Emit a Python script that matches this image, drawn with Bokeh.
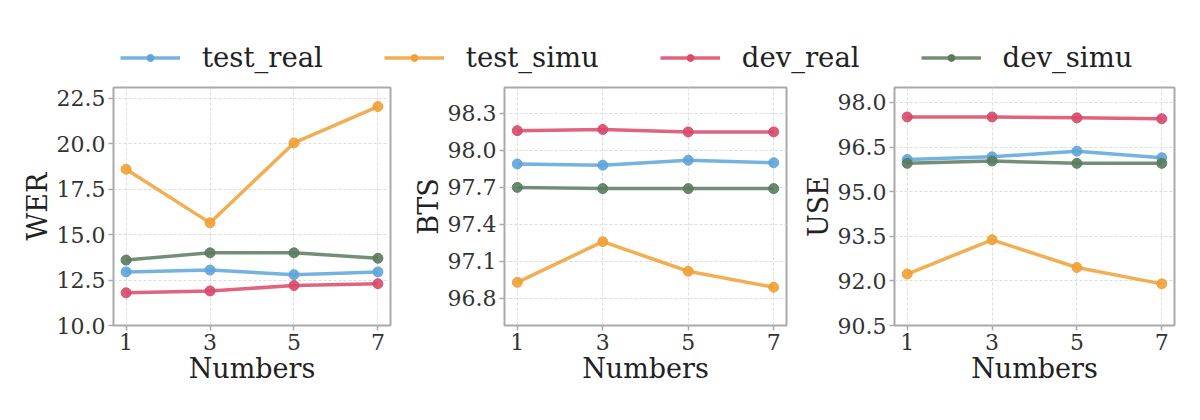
from bokeh.plotting import figure
from bokeh.layouts import column, row
from bokeh.models import (ColumnDataSource, FixedTicker, Legend, LegendItem,
                          NumeralTickFormatter, Range1d)
from bokeh.embed import file_html
from bokeh.resources import INLINE

# values
numbers = [1, 3, 5, 7]
series = ["test_real", "test_simu", "dev_real", "dev_simu"]
colors = ["#5DA5DA", "#F0A035", "#D8496A", "#5B7B5F"]

wer_test_real = [12.95, 13.05, 12.8, 12.95]
wer_test_simu = [18.6, 15.65, 20.05, 22.05]
wer_dev_real = [11.8, 11.9, 12.2, 12.3]
wer_dev_simu = [13.6, 14.0, 14.0, 13.7]

bts_test_real = [97.89, 97.88, 97.92, 97.90]
bts_test_simu = [96.93, 97.26, 97.02, 96.89]
bts_dev_real = [98.16, 98.17, 98.15, 98.15]
bts_dev_simu = [97.70, 97.69, 97.69, 97.69]

use_test_real = [96.08, 96.17, 96.36, 96.14]
use_test_simu = [92.23, 93.38, 92.45, 91.90]
use_dev_real = [97.51, 97.51, 97.48, 97.45]
use_dev_simu = [95.95, 96.03, 95.95, 95.95]

wer_ticks = [10.0, 12.5, 15.0, 17.5, 20.0, 22.5]
bts_ticks = [96.8, 97.1, 97.4, 97.7, 98.0, 98.3]
use_ticks = [90.5, 92.0, 93.5, 95.0, 96.5, 98.0]

FONT = "DejaVu Serif"


def panel(ylabel, data, yrange, yticks, width, left, right):
    p = figure(width=width, height=329, x_range=Range1d(0.7, 7.3),
               y_range=Range1d(*yrange), output_backend="svg",
               toolbar_location=None, min_border_left=left,
               min_border_right=right, min_border_top=4, min_border_bottom=87)
    p.background_fill_color = "white"
    p.outline_line_color = "#aaaaaa"
    p.outline_line_width = 2
    p.grid.grid_line_color = "#dddddd"
    p.grid.grid_line_dash = "3 2"
    p.grid.grid_line_width = 1
    p.xaxis.ticker = FixedTicker(ticks=numbers)
    p.yaxis.ticker = FixedTicker(ticks=yticks)
    p.yaxis.formatter = NumeralTickFormatter(format="0.0")
    p.xaxis.axis_label = "Numbers"
    p.yaxis.axis_label = ylabel
    for ax in p.axis:
        ax.axis_line_color = None
        ax.minor_tick_line_color = None
        ax.major_tick_out = 5
        ax.major_tick_in = 0
        ax.major_tick_line_color = "#aaaaaa"
        ax.major_tick_line_width = 1.5
        ax.major_label_text_font = FONT
        ax.major_label_text_font_size = "22px"
        ax.major_label_text_color = "#333333"
        ax.major_label_standoff = 3
        ax.axis_label_text_font = FONT
        ax.axis_label_text_font_size = "27px"
        ax.axis_label_text_font_style = "normal"
        ax.axis_label_text_color = "#222222"
    p.xaxis.axis_label_standoff = 0
    p.yaxis.axis_label_standoff = 1
    for vals, c in zip(data, colors):
        src = ColumnDataSource(dict(x=numbers, y=vals))
        p.line("x", "y", source=src, line_color=c, line_width=3.5, line_alpha=0.85)
        p.scatter("x", "y", source=src, size=10, fill_color=c, line_color=c,
                  fill_alpha=0.9, line_alpha=0.9)
    return p


p1 = panel("WER", [wer_test_real, wer_test_simu, wer_dev_real, wer_dev_simu],
           (10.0, 23.1), wer_ticks, 398, 113, 8)
p2 = panel("BTS", [bts_test_real, bts_test_simu, bts_dev_real, bts_dev_simu],
           (96.58, 98.51), bts_ticks, 392, 106, 4)
p3 = panel("USE", [use_test_real, use_test_simu, use_dev_real, use_dev_simu],
           (90.5, 98.5), use_ticks, 394, 104, 10)

# legend strip across the top; its lines sit outside the visible range
leg = figure(width=1192, height=83, x_range=Range1d(100, 101), y_range=Range1d(100, 101),
             output_backend="svg", toolbar_location=None, min_border=0)
leg.axis.visible = False
leg.grid.visible = False
leg.outline_line_color = None
items = []
wer_all = [wer_test_real, wer_test_simu, wer_dev_real, wer_dev_simu]
for name, c, vals in zip(series, colors, wer_all):
    src = ColumnDataSource(dict(x=numbers, y=vals))
    r1 = leg.line("x", "y", source=src, line_color=c, line_width=3.5, line_alpha=0.85)
    r2 = leg.scatter("x", "y", source=src, size=6, fill_color=c, line_color=c)
    items.append(LegendItem(label=name, renderers=[r1, r2]))
legend = Legend(items=items, orientation="horizontal", location=(120, 10),
                glyph_width=60, glyph_height=17, label_standoff=22, spacing=61,
                padding=0, margin=0, border_line_color=None,
                background_fill_alpha=0, label_text_font=FONT,
                label_text_font_size="27.5px", label_text_color="#222222",
                label_height=32)
leg.add_layout(legend)

layout = column(leg, row(p1, p2, p3))
open("out.html", "w").write(file_html(layout, INLINE))
